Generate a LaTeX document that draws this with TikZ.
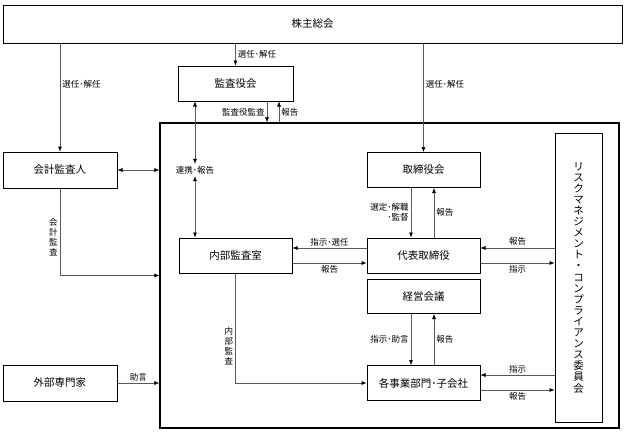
\documentclass[tikz,border=0pt]{standalone}
\usepackage{fontspec}
\setmainfont{Noto Sans CJK JP}
\usetikzlibrary{arrows.meta}

\tikzset{
    box/.style={draw, line width=1pt, minimum width=113pt, minimum height=35pt,
        inner sep=0pt, font=\fontsize{10.5}{12}\selectfont},
    conn/.style={draw=black!65, line width=0.6pt,
        -{Latex[length=5pt,width=4pt,color=black]}},
    biconn/.style={conn,
        {Latex[length=5pt,width=4pt,color=black]}-{Latex[length=5pt,width=4pt,color=black]}},
    lbl/.style={inner sep=2pt, font=\fontsize{8.5}{10}\selectfont},
}

\begin{document}
\begin{tikzpicture}[x=1pt,y=-1pt]
    \useasboundingbox (0,0) rectangle (625,434);

    % Boxes:
    \node[box, minimum width=619pt, minimum height=38pt] (soukai) at (312.5,24) {株主総会};
    \node[box, minimum width=115pt] (kansayaku) at (235.5,83.5) {監査役会};
    \node[box, minimum width=114pt, minimum height=36pt] (kaikei) at (60,170) {会計監査人};
    \node[box, minimum width=114pt, minimum height=36pt] (gaibu) at (60,383) {外部専門家};
    \node[draw, line width=1.2pt, minimum width=459pt, minimum height=305pt] (kaisha) at (389.5,275.5) {};
    \node[box] (torishimari) at (423.5,170) {取締役会};
    \node[box] (daihyo) at (423.5,255.5) {代表取締役};
    \node[box] (naibu) at (235.5,255.5) {内部監査室};
    \node[box, minimum height=34pt] (keiei) at (423.5,296.5) {経営会議};
    \node[box] (kakubu) at (423.5,383) {各事業部門･子会社};
    \node[box, minimum width=47pt, minimum height=289pt, align=center,
          font=\fontsize{10.5}{11.1}\selectfont] (risk) at (578.5,277.5)
        {リ\\ス\\ク\\マ\\ネ\\ジ\\メ\\ン\\ト\\・\\コ\\ン\\プ\\ラ\\イ\\ア\\ン\\ス\\委\\員\\会};
    \node[lbl] (renkei) at (195,170) {連携･報告};

    % from 株主総会
    \draw[conn] (kaikei |- soukai.south) -- (kaikei.north)
        node[lbl, pos=0.38, right] {選任･解任};
    \draw[conn] (kansayaku.north |- soukai.south) -- (kansayaku.north)
        node[lbl, midway, right] {選任･解任};
    \draw[conn] (torishimari |- soukai.south) -- (torishimari.north)
        node[lbl, pos=0.38, right] {選任･解任};

    % 監査役会
    \draw[biconn] (renkei |- kansayaku.south) -- (renkei.north);
    \draw[biconn] (renkei.south) -- (renkei |- naibu.north);
    \coordinate (kan1) at ([xshift=31.5pt]kansayaku.south);
    \coordinate (kan2) at ([xshift=43.5pt]kansayaku.south);
    \draw[conn] (kan1) -- (kan1 |- kaisha.north) node[lbl, midway, left] {監査役監査};
    \draw[conn] (kan2 |- kaisha.north) -- (kan2) node[lbl, midway, right] {報告};

    % 会計監査人, 外部専門家
    \draw[biconn] (kaikei.east) -- (kaikei.east -| kaisha.west);
    \draw[conn] (kaikei.south) |- (kaisha.west)
        node[lbl, pos=0.28, left, align=center] {会\\計\\監\\査};
    \draw[conn] (gaibu.east) -- (gaibu.east -| kaisha.west)
        node[lbl, midway, above] {助言};

    % 代表取締役
    \draw[conn] ([xshift=-12.5pt]torishimari.south) -- ([xshift=-12.5pt]daihyo.north)
        node[lbl, midway, left, align=right] {選定･解職\\･監督};
    \draw[conn] ([xshift=10.5pt]daihyo.north) -- ([xshift=10.5pt]torishimari.south)
        node[lbl, midway, right] {報告};
    \draw[conn] ([yshift=7.5pt]daihyo.west) -- ([yshift=7.5pt]naibu.east)
        node[lbl, midway, above] {指示･選任};
    \draw[conn] ([yshift=-7.5pt]naibu.east) -- ([yshift=-7.5pt]daihyo.west)
        node[lbl, midway, below] {報告};
    \draw[conn] ([yshift=7.5pt]daihyo.east -| risk.west) -- ([yshift=7.5pt]daihyo.east)
        node[lbl, midway, above] {報告};
    \draw[conn] ([yshift=-7.5pt]daihyo.east) -- ([yshift=-7.5pt]daihyo.east -| risk.west)
        node[lbl, midway, below] {指示};

    % 各事業部門
    \draw[conn] ([xshift=-12.5pt]keiei.south) -- ([xshift=-12.5pt]kakubu.north)
        node[lbl, midway, left] {指示･助言};
    \draw[conn] ([xshift=10.5pt]kakubu.north) -- ([xshift=10.5pt]keiei.south)
        node[lbl, midway, right] {報告};
    \draw[conn] ([yshift=8pt]kakubu.east -| risk.west) -- ([yshift=8pt]kakubu.east)
        node[lbl, midway, above] {指示};
    \draw[conn] ([yshift=-7pt]kakubu.east) -- ([yshift=-7pt]kakubu.east -| risk.west)
        node[lbl, midway, below] {報告};
    \draw[conn] (naibu.south) |- (kakubu.west)
        node[lbl, pos=0.33, left, align=center] {内\\部\\監\\査};
\end{tikzpicture}
\end{document}
